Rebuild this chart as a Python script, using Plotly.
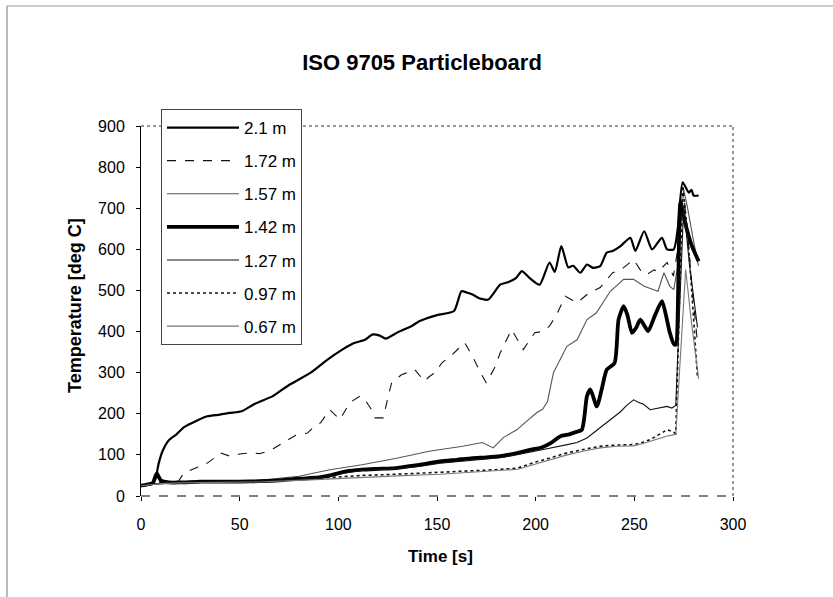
import plotly.graph_objects as go

# ---------------- data ----------------
t_210 = [0, 3, 6, 7.5, 9, 11, 14, 18, 22, 27.7, 33.6, 40, 45, 51, 58, 66.8, 75, 86, 94, 102, 108,
         113.5, 117.5, 121, 124, 130, 137, 141, 150, 158.6, 162.4, 165, 168, 172, 176, 182, 186,
         190, 193, 197, 202, 207, 209.7, 213, 216.5, 219, 222.6, 226, 229, 232.7, 236, 239, 243,
         248, 250.5, 255, 259, 264, 266.6, 270, 272, 274.5, 277.6, 279, 280, 282.6]
y_210 = [25, 27, 30, 45, 80, 110, 135, 150, 168, 182, 194, 198, 202, 206, 225, 243, 270, 300, 330,
         356, 372, 380, 393, 390, 383, 398, 413, 425, 440, 450, 498, 495, 490, 480, 478, 514, 520,
         530, 547, 530, 514, 568, 545, 608, 556, 560, 543, 563, 555, 559, 592, 596, 608, 628, 596,
         644, 600, 628, 600, 600, 650, 763, 738, 745, 731, 731]

t_172 = [0, 5, 10, 15, 19, 21.7, 25, 29.7, 33.6, 37, 40, 43, 45, 50, 55.6, 60, 63.8, 67, 70.8, 75,
         78.4, 84.4, 88, 91, 95.7, 100.8, 105.8, 110.9, 113, 116.8, 118.5, 122.8, 125.3, 127, 132,
         138.8, 143.7, 146, 149, 152.5, 158, 164, 168, 172, 175, 179, 182, 187.8, 193.7, 199.5, 203,
         207, 211, 215, 221, 227, 232.7, 239, 243.4, 249.6, 254, 256.4, 260, 262, 266.6, 269.8,
         272, 274.7, 277, 279, 282]
y_172 = [25, 28, 32, 34, 36, 56, 62, 72, 80, 92, 105, 100, 97, 102, 105, 103, 108, 115, 125, 138,
         148, 153, 170, 178, 210, 186, 227, 243, 238, 210, 190, 190, 243, 275, 295, 307, 279, 290,
         300, 324, 345, 373, 340, 300, 275, 310, 348, 405, 356, 397, 400, 413, 445, 486, 470, 494,
         507, 543, 551, 575, 543, 539, 550, 545, 568, 535, 600, 750, 640, 520, 373]

t_157 = [0, 5, 10, 20, 40, 60, 80, 95.7, 112, 129.5, 146, 163, 173, 178.5, 183.6, 190.4, 195.5,
         200.6, 203.5, 206, 209, 212, 215.8, 221, 226, 230.7, 237.8, 244.6, 249.6, 255, 262, 265,
         268, 270, 272, 275, 277, 280, 282.5]
y_157 = [25, 28, 30, 33, 35, 38, 48, 64, 76, 92, 109, 121, 130, 117, 142, 161, 182, 203, 211, 230,
         300, 330, 364, 380, 429, 445, 498, 527, 527, 510, 498, 543, 510, 502, 560, 745, 700, 620,
         560]

t_142 = [0, 3, 6, 8, 10, 14, 20, 30, 40, 50, 60, 70, 80, 90, 95.7, 104, 112, 120, 129.5, 135, 141,
         151.5, 160, 168, 175, 182, 190, 197, 203, 208, 212.4, 217, 220, 223.4, 226, 227.7, 231,
         233.5, 236, 240, 242, 244.6, 246.5, 248.8, 251, 253, 255, 257, 260.5, 264, 266, 268, 270,
         271, 273.4, 276, 279, 282.6]
y_142 = [25, 28, 32, 55, 38, 33, 33, 35, 35, 35, 36, 38, 42, 45, 50, 60, 64, 66, 68, 72, 76, 84, 88,
         92, 94, 97, 104, 112, 118, 130, 145, 150, 155, 161, 243, 259, 218, 260, 307, 324, 429, 462,
         440, 397, 410, 429, 415, 401, 440, 474, 440, 397, 370, 368, 714, 660, 610, 571]

t_127 = [0, 5, 10, 20, 40, 60, 80, 95.7, 112, 129.5, 141, 151.5, 168, 182, 190, 198.7, 207, 216,
         221, 226, 231, 236, 240, 243, 246, 249.6, 252, 254.7, 258, 262, 266.6, 269, 271, 275, 278,
         282]
y_127 = [25, 28, 30, 32, 35, 36, 40, 50, 62, 66, 72, 80, 88, 93, 100, 109, 116, 125, 130, 141, 160,
         178, 195, 205, 220, 234, 228, 223, 210, 214, 218, 214, 220, 705, 560, 410]

t_097 = [0, 5, 10, 20, 40, 60, 80, 95.7, 112, 130, 151.5, 170, 180, 191, 198.7, 207, 216, 225,
         232.7, 241, 249.6, 254, 258, 262, 266.6, 269, 271, 274.5, 277, 279.5, 282]
y_097 = [25, 28, 32, 34, 35, 36, 40, 45, 50, 53, 57, 61, 64, 68, 81, 92, 105, 114, 121, 124, 125,
         130, 137, 148, 161, 157, 152, 755, 640, 470, 288]

t_067 = [0, 5, 10, 20, 40, 60, 80, 95.7, 112, 130, 151.5, 170, 180, 191, 198.7, 207, 216, 225,
         232.7, 241, 249.6, 254, 258, 262, 266.6, 269, 271, 276, 279, 282.6]
y_067 = [25, 27, 30, 32, 33, 34, 38, 42, 46, 49, 53, 58, 61, 65, 76, 88, 100, 110, 117, 121, 122,
         127, 133, 140, 146, 148, 150, 551, 420, 285]

labels = ["2.1 m", "1.72 m", "1.57 m", "1.42 m", "1.27 m", "0.97 m", "0.67 m"]
x_ticks = [0, 50, 100, 150, 200, 250, 300]
y_ticks = [0, 100, 200, 300, 400, 500, 600, 700, 800, 900]

series = [(t_210, y_210), (t_172, y_172), (t_157, y_157), (t_142, y_142),
          (t_127, y_127), (t_097, y_097), (t_067, y_067)]
styles = [
    dict(color="#000000", width=2.2, dash="solid", shape="spline"),
    dict(color="#111111", width=1.1, dash="dash", shape="linear"),
    dict(color="#555555", width=1.1, dash="solid", shape="linear"),
    dict(color="#000000", width=3.8, dash="solid", shape="spline"),
    dict(color="#111111", width=1.1, dash="solid", shape="linear"),
    dict(color="#111111", width=1.6, dash="dot", shape="linear"),
    dict(color="#777777", width=1.1, dash="solid", shape="linear"),
]

FONT = "Liberation Sans, Arial, sans-serif"

fig = go.Figure()
for i, ((tx, ty), lab, st) in enumerate(zip(series, labels, styles)):
    fig.add_trace(go.Scatter(
        x=tx, y=ty, mode="lines", name=lab, legendgroup=f"g{i}",
        line=dict(color=st["color"], width=st["width"], dash=st["dash"],
                  shape=st["shape"], smoothing=0.6),
    ))

L, R, T, B = 141, 100, 126, 101
W, H = 833, 597
pw, ph = W - L - R, H - T - B

def px_x(p):
    return (p - L) / pw

def px_y(p):
    return (H - B - p) / ph

fig.update_layout(
    width=W, height=H,
    margin=dict(l=L, r=R, t=T, b=B, pad=0),
    paper_bgcolor="white", plot_bgcolor="white",
    font=dict(family=FONT, size=16, color="black"),
    showlegend=True,
    legend=dict(
        x=px_x(161), y=px_y(109), xanchor="left", yanchor="top",
        bgcolor="white", bordercolor="#444444", borderwidth=1,
        font=dict(family=FONT, size=17, color="black"),
        itemwidth=72, tracegroupgap=8, traceorder="grouped",
    ),
    title=dict(
        text="<b>ISO 9705 Particleboard</b>", x=422 / W, xanchor="center",
        y=1 - 62 / H, yanchor="middle",
        font=dict(family=FONT, size=22, color="black"),
    ),
    xaxis=dict(
        range=[0, 300], tickvals=x_ticks, ticktext=[str(v) for v in x_ticks],
        showgrid=False, zeroline=False, showline=False,
        ticks="outside", ticklen=4, tickcolor="black", ticklabelstandoff=10,
        tickfont=dict(family=FONT, size=16),
    ),
    yaxis=dict(
        range=[0, 900], tickvals=y_ticks, ticktext=[str(v) for v in y_ticks],
        showgrid=False, zeroline=False, showline=True, linecolor="black", linewidth=1,
        ticks="outside", ticklen=4, tickcolor="black", ticklabelstandoff=8,
        tickfont=dict(family=FONT, size=16),
    ),
    annotations=[
        dict(text="<b>Time [s]</b>", xref="paper", yref="paper",
             x=px_x(440), y=px_y(556), xanchor="center", yanchor="middle",
             showarrow=False, font=dict(family=FONT, size=17)),
        dict(text="<b>Temperature [deg C]</b>", xref="paper", yref="paper",
             x=px_x(75), y=px_y(306), xanchor="center", yanchor="middle",
             textangle=-90, showarrow=False, font=dict(family=FONT, size=18)),
    ],
    shapes=[
        # plot-area border (top / right), dotted as in the scan
        dict(type="line", xref="paper", yref="paper", x0=0, y0=1, x1=1, y1=1,
             line=dict(color="#333333", width=1, dash="dot")),
        dict(type="line", xref="paper", yref="paper", x0=1, y0=0, x1=1, y1=1,
             line=dict(color="#333333", width=1, dash="dot")),
        # dashed x axis line
        dict(type="line", xref="paper", yref="paper", x0=0, y0=0, x1=1, y1=0,
             line=dict(color="#000000", width=1, dash="dash")),
        # outer chart frame (left & top)
        dict(type="line", xref="paper", yref="paper", x0=px_x(7), y0=px_y(6),
             x1=px_x(7), y1=px_y(597), line=dict(color="#777777", width=1)),
        dict(type="line", xref="paper", yref="paper", x0=px_x(7), y0=px_y(6),
             x1=px_x(833), y1=px_y(6), line=dict(color="#999999", width=1)),
    ],
)

fig.write_html("out.html")
